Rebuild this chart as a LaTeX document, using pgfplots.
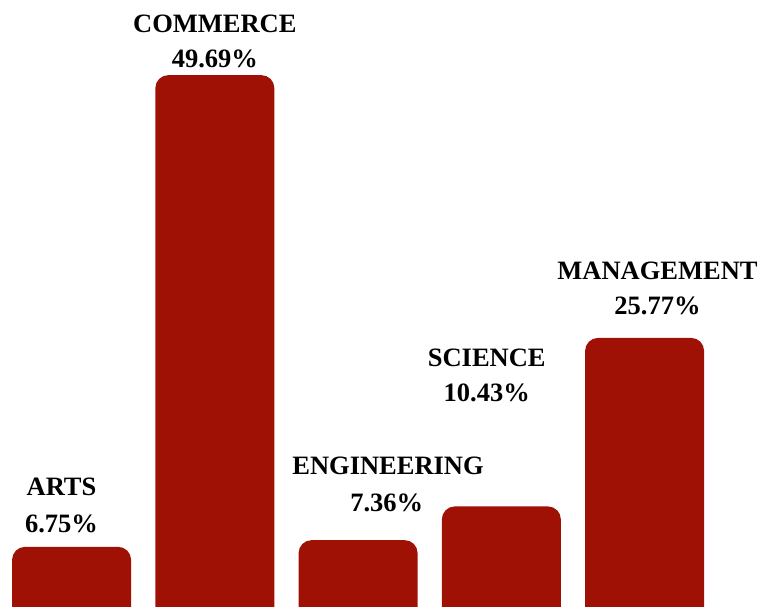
\documentclass[border=0pt]{standalone}
\usepackage{fontspec}
\setmainfont{Liberation Serif}
\usepackage{pgfplots}
\pgfplotsset{compat=1.18}
\definecolor{barred}{RGB}{159,17,4}
\begin{document}
\begin{tikzpicture}
\begin{axis}[
  at={(0,-14pt)}, anchor=south west,
  scale only axis, width=761pt, height=621pt,
  axis lines=none, ticks=none,
  xmin=-0.4998, xmax=4.8126,
  ymin=0, ymax=56.53,
  ybar, bar width=0.831,
  clip=false,
  nodes={font=\fontsize{26.5}{30}\selectfont\bfseries, anchor=base, inner sep=0pt},
]
\addplot[fill=barred, draw=none, rounded corners=13pt] coordinates {
  (0,6.75) (1,49.69) (2,7.36) (3,10.43) (4,25.77)
};
\node at (axis cs:-0.0705,11.38) {ARTS};
\node at (axis cs:-0.0705,8.10) {6.75\%};
\node at (axis cs:1.0,53.53) {COMMERCE};
\node at (axis cs:1.0,50.34) {49.69\%};
\node at (axis cs:2.209,13.29) {ENGINEERING};
\node at (axis cs:2.200,10.01) {7.36\%};
\node at (axis cs:2.898,23.21) {SCIENCE};
\node at (axis cs:2.898,19.96) {10.43\%};
\node at (axis cs:4.090,31.11) {MANAGEMENT};
\node at (axis cs:4.090,27.86) {25.77\%};
\end{axis}
\pgfresetboundingbox
\path (0,0) rectangle (761pt,607pt);
\end{tikzpicture}
\end{document}
